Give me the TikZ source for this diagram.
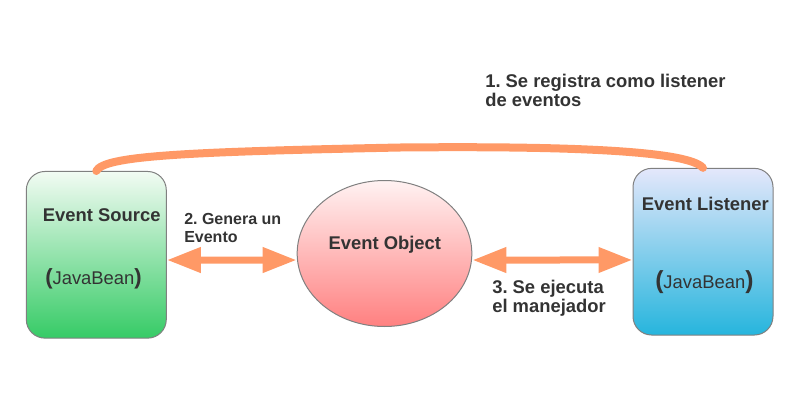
\documentclass[tikz,border=0pt]{standalone}
\usepackage{fontspec}
\setmainfont{Liberation Sans}
\usepackage{tikz}
\usetikzlibrary{arrows.meta,shapes.geometric}
\frenchspacing
\definecolor{flecha}{HTML}{FF9966}
\definecolor{texto}{HTML}{333333}
\definecolor{borde}{HTML}{808080}
\definecolor{verdeA}{HTML}{F2FBF3}
\definecolor{verdeB}{HTML}{36CB66}
\definecolor{azulA}{HTML}{E4E7FB}
\definecolor{azulB}{HTML}{26B5DD}
\definecolor{rojoA}{HTML}{FFF2F2}
\definecolor{rojoB}{HTML}{FF8080}
\tikzset{
    bean/.style={rectangle,rounded corners=14pt,draw=borde,line width=0.75pt,
        minimum width=105pt,minimum height=125pt,inner sep=0pt},
    evento/.style={ellipse,draw=borde,line width=0.75pt,top color=rojoA,bottom color=rojoB,
        minimum width=131pt,minimum height=109.5pt,inner sep=0pt},
    titulo/.style={anchor=base west,inner sep=0pt,text=texto,
        font=\fontsize{13.8}{14.5}\selectfont\bfseries},
    paso/.style={anchor=north west,inner sep=0pt,text=texto,align=left,
        font=\fontsize{13.8}{14.5}\selectfont\bfseries},
    flechagorda/.style={draw=flecha,line width=5.25pt,
        {Triangle[length=25.5pt,width=18pt]}-{Triangle[length=25.5pt,width=18pt]}},
}
\begin{document}
\begin{tikzpicture}[x=0.75pt,y=-0.75pt]
\useasboundingbox (0,0) rectangle (786,400);
% cajas y objeto
\node[bean,top color=verdeA,bottom color=verdeB] (src) at (96.3,254.8) {};
\node[bean,top color=azulA,bottom color=azulB] (lis) at (703,251.7) {};
\node[evento] (obj) at (384.5,253.5) {};
% textos de las cajas
\node[titulo] (srctit) at (42.7,221.7) {Event Source};
\node[titulo,font=\fontsize{13.8}{14.5}\selectfont] (srcjb) at (45,284)
    {{\fontsize{16.5}{16.5}\selectfont\bfseries(}JavaBean{\fontsize{16.5}{16.5}\selectfont\bfseries)}};
\node[titulo] (listit) at (641.7,210) {Event Listener};
\node[titulo,font=\fontsize{13.8}{14.5}\selectfont] (lisjb) at (655,288)
    {{\fontsize{18.5}{18.5}\selectfont\bfseries(}JavaBean{\fontsize{18.5}{18.5}\selectfont\bfseries)}};
\node[titulo] (objtit) at (328.3,249.3) {Event Object};
% registro
\draw[flecha,line width=6pt,line cap=round] (src.north) .. controls (104,156) and (180,152) .. (400,147.5)
    .. controls (560,146) and (688,150) .. (lis.north);
\node[paso] (reg) at (485,73.8) {1. Se registra como listener\\de eventos};
% generar y ejecutar
\draw[flechagorda] ([yshift=-3.9pt]src.east) -- ([yshift=-4.9pt]obj.west);
\draw[flechagorda] ([yshift=-4.9pt]obj.east) -- ([yshift=-6.2pt]lis.west);
\node[paso,font=\fontsize{12}{13.3}\selectfont\bfseries] (gen) at (184,213.3) {2. Genera un\\Evento};
\node[paso] (eje) at (492,279.8) {3. Se ejecuta\\el manejador};
\end{tikzpicture}
\end{document}
